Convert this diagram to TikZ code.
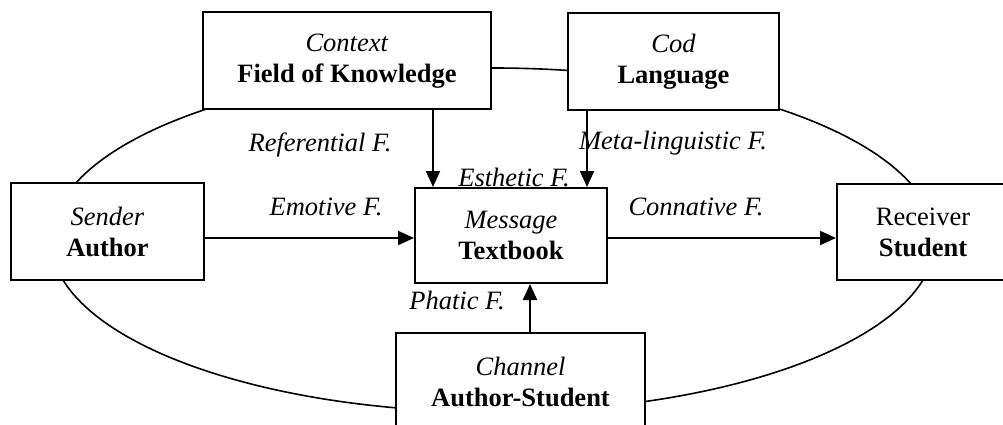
\documentclass[tikz,border=0pt]{standalone}
\usepackage{fontspec}
\setmainfont{Liberation Serif}
\usetikzlibrary{arrows.meta}
\begin{document}
\begin{tikzpicture}[x=1pt,y=-1pt,
  box/.style={draw,fill=white,line width=2pt,align=center,inner sep=0pt,font=\fontsize{26.5}{31}\selectfont},
  lab/.style={font=\fontsize{26.5}{31}\selectfont\itshape,inner sep=0pt},
  arr/.style={line width=2pt,-{Triangle[length=16pt,width=14pt]}},
  link/.style={line width=1.6pt}]
\clip (0,0) rectangle (1003,425);
% the ring that links all functions, passing behind the boxes
\draw[link] (493,240) ellipse [x radius=442pt, y radius=172pt];

\node[box,minimum width=288pt,minimum height=97pt] (C) at (347,61) {\textit{Context}\\\textbf{Field of Knowledge}};
\node[box,minimum width=211pt,minimum height=97pt] (K) at (673.5,61.5) {\textit{Cod}\\\textbf{Language}};
\node[box,minimum width=193pt,minimum height=97pt] (S) at (107.5,231.5) {\textit{Sender}\\\textbf{Author}};
\node[box,minimum width=192pt,minimum height=95pt] (M) at (511,235.5) {\textit{Message}\\\textbf{Textbook}};
\node[box,minimum width=172pt,minimum height=96pt] (R) at (923,232) {Receiver\\\textbf{Student}};
\node[box,minimum width=249pt,minimum height=97pt] (H) at (520.5,381.5) {\textit{Channel}\\\textbf{Author-Student}};

\node[lab] (lref) at (320,145) {Referential F.};
\node[lab] (lemo) at (326,207) {Emotive F.};
\node[lab] (lest) at (514,177) {Esthetic F.};
\node[lab] (lmeta) at (673,143) {Meta-linguistic F.};
\node[lab] (lcon) at (696,207) {Connative F.};
\node[lab] (lpha) at (457,300) {Phatic F.};

\draw[arr] ([xshift=86pt]C.south) -- ([xshift=86pt]C.south |- M.north);
\draw[arr] ([xshift=-86.5pt]K.south) -- ([xshift=-86.5pt]K.south |- M.north);
\draw[arr] ([yshift=-6.5pt]S.east) -- ([yshift=-6.5pt]S.east -| M.west);
\draw[arr] ([yshift=-2.5pt]M.east) -- ([yshift=-2.5pt]M.east -| R.west);
\draw[arr] ([xshift=9.5pt]H.north) -- ([xshift=9.5pt]H.north |- M.south);
\end{tikzpicture}
\end{document}
